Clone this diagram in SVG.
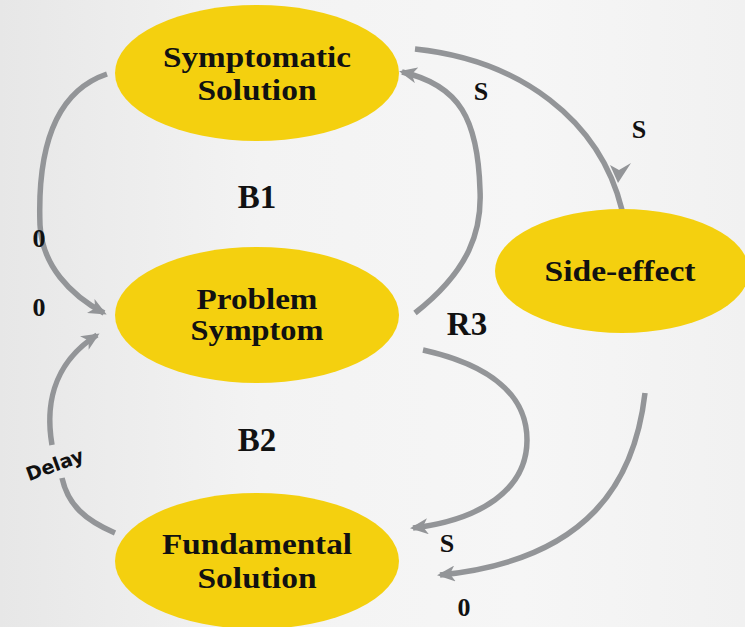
<svg xmlns="http://www.w3.org/2000/svg" width="745" height="627" viewBox="0 0 745 627">
  <defs>
    <linearGradient id="bg" x1="0" y1="0" x2="1" y2="0">
      <stop offset="0" stop-color="#e7e7e7"/>
      <stop offset="0.35" stop-color="#f3f3f3"/>
      <stop offset="0.7" stop-color="#f6f6f6"/>
      <stop offset="1" stop-color="#f1f1f1"/>
    </linearGradient>
    <marker id="arrow" viewBox="0 0 18 16" refX="15" refY="8" markerWidth="18" markerHeight="16" markerUnits="userSpaceOnUse" orient="auto">
      <path d="M0,0 L18,8 L0,16 L5,8 z" fill="#939598"/>
    </marker>
    <style>
      .node { fill: #f4d00f; }
      .label { font-family: "Liberation Serif", "Times New Roman", serif; font-weight: bold; font-size: 30px; fill: #111; text-anchor: middle; }
      .loop { font-family: "Liberation Serif", "Times New Roman", serif; font-weight: bold; font-size: 33px; fill: #111; text-anchor: middle; }
      .pol { font-family: "Liberation Serif", "Times New Roman", serif; font-weight: bold; font-size: 26px; fill: #111; text-anchor: middle; }
      .link { fill: none; stroke: #939598; stroke-width: 5.5; }
      .delay { font-family: "DejaVu Sans", "Noto Sans", sans-serif; font-weight: bold; font-size: 19px; fill: #111; text-anchor: middle; }
    </style>
  </defs>

  <rect x="0" y="0" width="745" height="627" fill="url(#bg)"/>

  <!-- causal links -->
  <g id="connectors">
    <path class="link" d="M107,74 C45,95 38,170 40,225 C42,265 70,295 104,313" marker-end="url(#arrow)"/>
    <path class="link" d="M415,313 C470,270 482,230 480,190 C478,120 460,85 402,72" marker-end="url(#arrow)"/>
    <path class="link" d="M415,49 C520,60 600,120 622,210"/>
    <path d="M610,165 L618,183 L631,163 L619,170 z" fill="#939598"/>
    <path class="link" d="M423,350 C490,365 527,395 527,440 C527,490 480,520 413,528" marker-end="url(#arrow)"/>
    <path class="link" d="M645,393 C635,480 590,560 440,575" marker-end="url(#arrow)"/>
    <path class="link" d="M52,445 C46,410 50,365 97,335" marker-end="url(#arrow)"/>
    <path class="link" d="M62,478 C68,505 85,520 115,533"/>
  </g>

  <g id="symptomatic-solution">
    <ellipse class="node" cx="257" cy="73" rx="142" ry="68"/>
    <text class="label" x="257" y="67" textLength="188" lengthAdjust="spacingAndGlyphs">Symptomatic</text>
    <text class="label" x="257" y="100" textLength="119" lengthAdjust="spacingAndGlyphs">Solution</text>
  </g>

  <g id="problem-symptom">
    <ellipse class="node" cx="257" cy="315" rx="142" ry="68"/>
    <text class="label" x="257" y="309" textLength="121" lengthAdjust="spacingAndGlyphs">Problem</text>
    <text class="label" x="257" y="340" textLength="133" lengthAdjust="spacingAndGlyphs">Symptom</text>
  </g>

  <g id="fundamental-solution">
    <ellipse class="node" cx="257" cy="561" rx="142" ry="68"/>
    <text class="label" x="257" y="554" textLength="190" lengthAdjust="spacingAndGlyphs">Fundamental</text>
    <text class="label" x="257" y="588" textLength="119" lengthAdjust="spacingAndGlyphs">Solution</text>
  </g>

  <g id="side-effect">
    <ellipse class="node" cx="622" cy="271" rx="127" ry="62"/>
    <text class="label" x="620" y="281" textLength="151" lengthAdjust="spacingAndGlyphs">Side-effect</text>
  </g>

  <!-- loop and polarity labels -->
  <g id="labels">
    <text class="loop" x="257" y="208">B1</text>
    <text class="loop" x="467" y="335">R3</text>
    <text class="loop" x="257" y="451">B2</text>
    <text class="pol" x="481" y="100">S</text>
    <text class="pol" x="639" y="138">S</text>
    <text class="pol" x="447" y="552">S</text>
    <text class="pol" x="39" y="247">0</text>
    <text class="pol" x="39" y="316">0</text>
    <text class="pol" x="464" y="616">0</text>
    <text class="delay" x="0" y="0" transform="translate(57,471) rotate(-20)">Delay</text>
  </g>
</svg>
